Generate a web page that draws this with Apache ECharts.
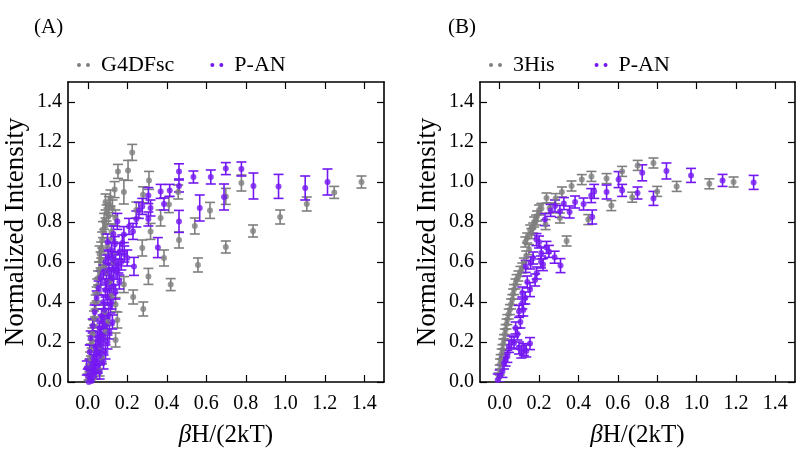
<!DOCTYPE html>
<html><head><meta charset="utf-8">
<script src="https://cdn.jsdelivr.net/npm/echarts@6/dist/echarts.min.js"></script>
<style>html,body{margin:0;padding:0;background:#fff}#c{width:800px;height:457px}</style>
</head><body><div id="c"></div>
<script>
// ---- data: [x, y, error] ----
const xTicks = [0, 0.2, 0.4, 0.6, 0.8, 1.0, 1.2, 1.4];
const yTicks = [0, 0.2, 0.4, 0.6, 0.8, 1.0, 1.2, 1.4];
const panelLabels = ['(A)', '(B)'];
const seriesNamesA = ['G4DFsc', 'P-AN'];
const seriesNamesB = ['3His', 'P-AN'];

const grayA = [
 [0.225,1.148,0.04],[0.204,1.058,0.05],[0.153,1.053,0.035],[0.136,0.962,0.04],[0.183,0.95,0.06],
 [0.31,1.008,0.045],[0.28,0.936,0.04],[0.246,0.86,0.04],[0.276,0.67,0.04],[0.307,0.528,0.04],
 [0.281,0.365,0.035],[0.23,0.425,0.035],[0.183,0.487,0.04],[0.42,0.487,0.03],[0.386,0.62,0.04],
 [0.369,0.82,0.04],[0.411,0.887,0.04],[0.458,0.95,0.035],[0.318,0.753,0.04],[0.141,0.387,0.035],
 [0.15,0.31,0.04],[0.141,0.21,0.035],[0.462,0.71,0.04],[0.558,0.585,0.035],[0.542,0.78,0.04],
 [0.619,0.858,0.04],[0.699,0.675,0.03],[0.699,0.928,0.04],[0.778,0.995,0.04],[0.837,0.755,0.03],
 [0.974,0.825,0.035],[1.109,0.89,0.035],[1.248,0.948,0.03],[1.386,1.0,0.03],
 [0.115,0.92,0.04],[0.107,0.887,0.04],[0.095,0.845,0.04],[0.083,0.803,0.04],[0.077,0.762,0.04],
 [0.073,0.71,0.04],[0.068,0.66,0.04],[0.065,0.61,0.04],[0.057,0.56,0.04],[0.052,0.52,0.035],
 [0.048,0.48,0.035],[0.045,0.44,0.035],[0.04,0.4,0.035],[0.036,0.36,0.035],[0.032,0.32,0.035],
 [0.028,0.28,0.03],[0.024,0.24,0.03],[0.02,0.2,0.03],[0.016,0.16,0.03],[0.012,0.12,0.03],
 [0.008,0.08,0.03],[0.004,0.04,0.03],[0.0,0.01,0.03],[0.072,0.12,0.03],[0.063,0.178,0.03],
 [0.09,0.25,0.03],[0.1,0.3,0.035],[0.085,0.35,0.035],[0.12,0.43,0.035],[0.11,0.5,0.035],
 [0.095,0.55,0.035],[0.13,0.6,0.04],[0.1,0.68,0.04],[0.12,0.75,0.04],[0.14,0.82,0.04],
 [0.09,0.9,0.04],[0.06,0.06,0.03],[0.03,0.02,0.03],[0.08,0.58,0.04],[0.09,0.78,0.04],
 [0.105,0.83,0.04],[0.06,0.64,0.04],[0.125,0.87,0.04]
];
const purpleA = [
 [0.462,1.053,0.038],[0.535,1.025,0.03],[0.623,1.025,0.035],[0.699,1.067,0.03],[0.778,1.065,0.035],
 [0.69,0.925,0.065],[0.839,0.98,0.065],[0.966,0.978,0.06],[1.101,0.97,0.06],[1.214,1.0,0.065],
 [0.567,0.87,0.065],[0.462,0.98,0.03],[0.415,0.958,0.03],[0.369,0.953,0.035],[0.386,0.89,0.03],
 [0.307,0.932,0.04],[0.318,0.87,0.04],[0.276,0.878,0.04],[0.307,0.815,0.035],[0.462,0.803,0.055],
 [0.355,0.672,0.05],[0.234,0.578,0.045],[0.259,0.858,0.04],[0.246,0.815,0.04],[0.209,0.778,0.04],
 [0.229,0.753,0.04],[0.183,0.737,0.04],[0.175,0.695,0.04],[0.15,0.803,0.04],[0.162,0.653,0.04],
 [0.137,0.687,0.04],[0.124,0.612,0.04],[0.107,0.553,0.04],
 [0.095,0.5,0.035],[0.09,0.46,0.035],[0.1,0.42,0.035],[0.08,0.4,0.035],[0.085,0.36,0.035],
 [0.07,0.33,0.035],[0.075,0.3,0.035],[0.06,0.27,0.035],[0.065,0.24,0.035],[0.05,0.22,0.035],
 [0.055,0.19,0.035],[0.04,0.17,0.035],[0.045,0.14,0.035],[0.03,0.12,0.035],[0.035,0.1,0.035],
 [0.02,0.08,0.035],[0.025,0.06,0.035],[0.01,0.04,0.035],[0.015,0.02,0.035],[0.0,0.03,0.035],
 [0.005,0.0,0.035],[0.02,0.005,0.035],[0.11,0.47,0.035],[0.12,0.52,0.035],[0.13,0.56,0.035],
 [0.14,0.6,0.035],[0.115,0.38,0.035],[0.105,0.33,0.035],[0.09,0.28,0.035],[0.08,0.23,0.035],
 [0.07,0.18,0.035],[0.06,0.13,0.035],[0.05,0.08,0.035],[0.04,0.05,0.035],[0.03,0.03,0.035],
 [0.105,0.62,0.035],[0.12,0.66,0.035],[0.09,0.6,0.035],[0.08,0.55,0.035],
 [0.15,0.55,0.035],[0.17,0.6,0.04],[0.16,0.5,0.035],[0.14,0.45,0.035],[0.13,0.48,0.035],
 [0.12,0.4,0.035],[0.125,0.3,0.035],[0.11,0.25,0.035],[0.1,0.2,0.035],[0.09,0.15,0.035],
 [0.08,0.1,0.035],[0.06,0.05,0.035],[0.2,0.62,0.04],[0.185,0.64,0.04],[0.155,0.58,0.035],
 [0.01,0.15,0.035],[0.015,0.22,0.035],[0.025,0.28,0.035],[0.035,0.35,0.035],[0.045,0.42,0.035],
 [-0.005,0.07,0.035],[0.055,0.47,0.035],[0.065,0.52,0.035],[0.1,0.7,0.04],[0.13,0.74,0.04]
];
const grayB = [
 [0.622,1.053,0.025],[0.701,1.083,0.025],[0.781,1.095,0.025],[0.899,0.978,0.025],[1.065,0.991,0.025],
 [1.188,1.0,0.025],[0.673,0.924,0.025],[0.8,0.953,0.025],[0.543,1.017,0.025],[0.466,1.028,0.025],
 [0.417,1.012,0.025],[0.365,0.98,0.025],[0.316,0.95,0.025],[0.238,0.92,0.025],[0.284,0.917,0.025],
 [0.212,0.868,0.025],[0.254,0.87,0.025],[0.185,0.81,0.025],[0.233,0.787,0.025],[0.306,0.82,0.025],
 [0.45,0.812,0.025],[0.567,0.882,0.025],[0.34,0.705,0.025],[0.161,0.742,0.025],[0.149,0.662,0.025],
 [0.123,0.595,0.025],[0.106,0.553,0.025],[0.086,0.512,0.025],[0.073,0.462,0.025],[0.064,0.412,0.025],
 [0.052,0.362,0.025],[0.039,0.312,0.025],[0.03,0.262,0.025],[0.022,0.212,0.025],[0.014,0.162,0.025],
 [0.005,0.112,0.025],[0.0,0.06,0.025],[-0.005,0.02,0.025],[0.135,0.63,0.025],[0.13,0.7,0.025],
 [0.14,0.72,0.025],[0.115,0.57,0.025],[0.095,0.53,0.025],[0.08,0.49,0.025],[0.068,0.44,0.025],
 [0.058,0.39,0.025],[0.046,0.34,0.025],[0.035,0.29,0.025],[0.026,0.24,0.025],[0.018,0.19,0.025],
 [0.01,0.14,0.025],[0.002,0.09,0.025],[0.17,0.77,0.025],[0.155,0.76,0.025],[0.19,0.83,0.025],
 [0.2,0.86,0.025],[0.175,0.8,0.025]
];
const purpleB = [
 [0.622,0.958,0.03],[0.724,1.046,0.04],[0.7,0.945,0.03],[0.781,0.918,0.035],[0.847,1.055,0.04],
 [0.972,1.033,0.035],[1.132,1.008,0.03],[1.29,0.998,0.035],[0.604,1.012,0.04],[0.543,0.95,0.035],
 [0.465,0.932,0.035],[0.48,0.953,0.035],[0.47,0.825,0.035],[0.426,0.89,0.03],[0.383,0.9,0.03],
 [0.355,0.85,0.03],[0.326,0.892,0.03],[0.306,0.853,0.03],[0.281,0.88,0.03],[0.259,0.858,0.03],
 [0.23,0.812,0.03],[0.187,0.712,0.03],[0.238,0.673,0.03],[0.211,0.645,0.03],[0.25,0.653,0.03],
 [0.279,0.624,0.03],[0.309,0.582,0.035],[0.22,0.587,0.03],[0.188,0.545,0.03],[0.157,0.595,0.03],
 [0.132,0.578,0.03],[0.154,0.462,0.035],[0.115,0.445,0.03],[0.115,0.395,0.03],[0.098,0.353,0.03],
 [0.081,0.27,0.03],[0.073,0.195,0.03],[0.154,0.192,0.03],[0.123,0.162,0.03],[0.098,0.17,0.03],
 [0.047,0.178,0.03],[0.039,0.128,0.03],[0.022,0.095,0.03],[0.014,0.053,0.03],[0.0,0.03,0.03],
 [-0.01,0.01,0.03],[0.2,0.7,0.03],[0.17,0.62,0.03],[0.21,0.6,0.03],[0.18,0.51,0.03],
 [0.14,0.5,0.03],[0.13,0.42,0.03],[0.12,0.36,0.03],[0.105,0.3,0.03],[0.09,0.24,0.03],
 [0.06,0.2,0.03],[0.11,0.15,0.03],[0.135,0.155,0.03],[0.03,0.11,0.03]
];

// ---- styling ----
const GRAY = '#7f7f7f', PURPLE = '#7418f2';
const FONT = '"Liberation Serif", "Times New Roman", serif';
const dotsIcon = 'path://M0,2a2,2 0 1,0 4,0a2,2 0 1,0 -4,0zM9,2a2,2 0 1,0 4,0a2,2 0 1,0 -4,0z';

function errRender(color) {
  return function (params, api) {
    const x = api.value(0), y = api.value(1), e = api.value(2);
    const hi = api.coord([x, y + e]), lo = api.coord([x, y - e]);
    const hw = 5;
    const st = { stroke: color, lineWidth: 1.6 };
    return { type: 'group', children: [
      { type: 'line', shape: { x1: hi[0], y1: hi[1], x2: lo[0], y2: lo[1] }, style: st },
      { type: 'line', shape: { x1: hi[0] - hw, y1: hi[1], x2: hi[0] + hw, y2: hi[1] }, style: st },
      { type: 'line', shape: { x1: lo[0] - hw, y1: lo[1], x2: lo[0] + hw, y2: lo[1] }, style: st }
    ]};
  };
}

const grids = [
  { left: 68, top: 82, width: 316, height: 300 },
  { left: 480, top: 82, width: 315, height: 300 }
];
const axisLine = { show: true, onZero: false, lineStyle: { color: '#000', width: 1.6 } };
const tick = (vals) => ({ show: true, inside: true, length: 7, customValues: vals, lineStyle: { color: '#000', width: 1.2 } });
const xAxes = [], yAxes = [];
[0, 1].forEach(g => {
  xAxes.push({ type: 'value', gridIndex: g, min: -0.1, max: 1.5, position: 'bottom',
    axisLine, axisTick: tick(xTicks), splitLine: { show: false },
    axisLabel: { customValues: xTicks, formatter: v => v.toFixed(1), color: '#000', fontFamily: FONT, fontSize: 20, margin: 12 },
    name: '{i|β}H/(2kT)', nameLocation: 'middle', nameGap: 41,
    nameTextStyle: { color: '#000', fontFamily: FONT, fontSize: 25, rich: { i: { fontStyle: 'italic', fontFamily: FONT, fontSize: 25, color: '#000' } } } });
  xAxes.push({ type: 'value', gridIndex: g, min: -0.1, max: 1.5, position: 'top',
    axisLine, axisTick: tick(xTicks), axisLabel: { show: false }, splitLine: { show: false } });
  yAxes.push({ type: 'value', gridIndex: g, min: 0, max: 1.5, position: 'left',
    axisLine, axisTick: tick(yTicks), splitLine: { show: false },
    axisLabel: { customValues: yTicks, formatter: v => v.toFixed(1), color: '#000', fontFamily: FONT, fontSize: 20, margin: 6 },
    name: 'Normalized Intensity', nameLocation: 'middle', nameGap: 39,
    nameTextStyle: { color: '#000', fontFamily: FONT, fontSize: 27 } });
  yAxes.push({ type: 'value', gridIndex: g, min: 0, max: 1.5, position: 'right',
    axisLine, axisTick: tick(yTicks), axisLabel: { show: false }, splitLine: { show: false } });
});

function pair(name, data, color, xi, yi) {
  return [
    { name, type: 'custom', xAxisIndex: xi, yAxisIndex: yi, data, clip: true,
      encode: { x: 0, y: 1 }, renderItem: errRender(color), itemStyle: { color }, silent: true },
    { name, type: 'scatter', xAxisIndex: xi, yAxisIndex: yi, data: data.map(d => [d[0], d[1]]), clip: true,
      symbol: 'circle', symbolSize: 6, itemStyle: { color }, silent: true }
  ];
}

const legendText = { color: '#000', fontFamily: FONT, fontSize: 22, padding: [0, 0, 0, 6] };
const option = {
  animation: false,
  title: [
    { text: panelLabels[0], left: 29, top: 12, textStyle: { fontFamily: FONT, fontSize: 21, fontWeight: 'normal', color: '#000' } },
    { text: panelLabels[1], left: 443, top: 12, textStyle: { fontFamily: FONT, fontSize: 21, fontWeight: 'normal', color: '#000' } }
  ],
  legend: [
    { left: 72, top: 49, itemWidth: 13, itemHeight: 4, itemGap: 36, textStyle: legendText, selectedMode: false,
      data: [{ name: seriesNamesA[0], icon: dotsIcon, itemStyle: { color: GRAY } }, { name: seriesNamesA[1], icon: dotsIcon, itemStyle: { color: PURPLE } }] },
    { left: 484, top: 49, itemWidth: 13, itemHeight: 4, itemGap: 40, textStyle: legendText, selectedMode: false,
      data: [{ name: seriesNamesB[0], icon: dotsIcon, itemStyle: { color: GRAY } }, { name: seriesNamesB[1], icon: dotsIcon, itemStyle: { color: PURPLE } }] }
  ],
  grid: grids,
  xAxis: xAxes,
  yAxis: yAxes,
  series: [
    ...pair(seriesNamesA[0], grayA, GRAY, 0, 0),
    ...pair(seriesNamesA[1], purpleA, PURPLE, 0, 0),
    ...pair(seriesNamesB[0], grayB, GRAY, 2, 2),
    ...pair(seriesNamesB[1], purpleB, PURPLE, 2, 2)
  ]
};
const chart = echarts.init(document.getElementById('c'), null, { renderer: 'canvas' });
chart.setOption(option);
</script></body></html>
